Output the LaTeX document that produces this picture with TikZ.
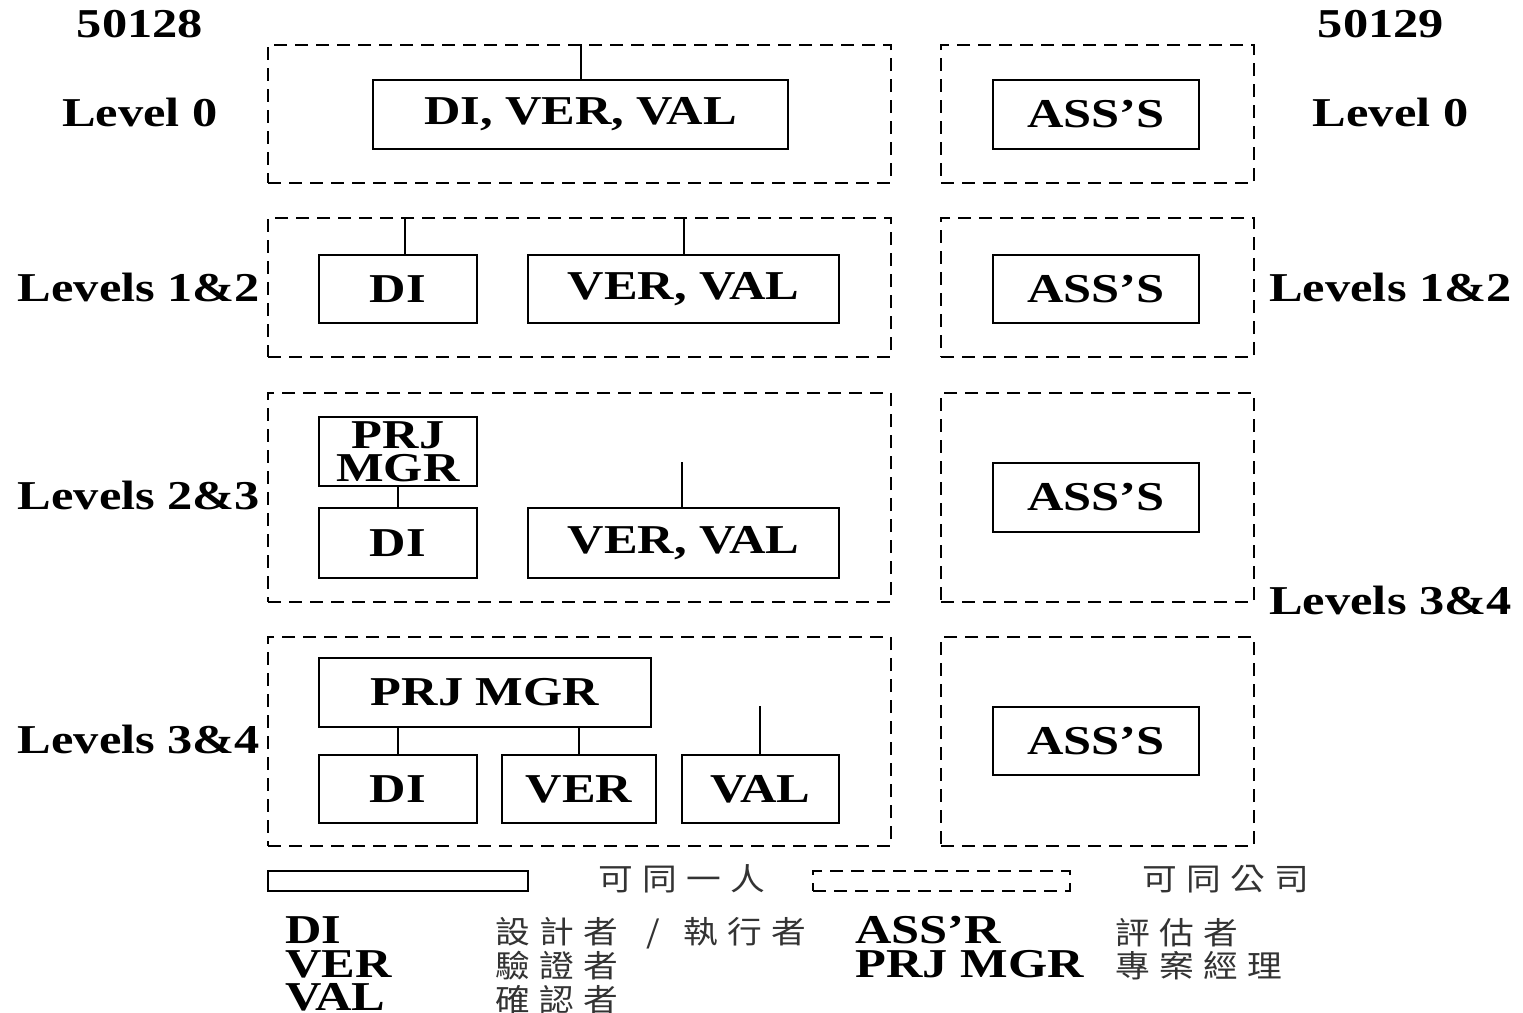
\documentclass[tikz,border=0pt]{standalone}
\usepackage{fontspec}
\setmainfont{Liberation Serif}[FakeStretch=1.23]
\newfontfamily\cjk{Noto Sans CJK TC}[FakeStretch=1.12,LetterSpace=30]
\begin{document}
\begin{tikzpicture}[x=0.5pt,y=-0.5pt,
  grp/.style={draw,line width=1pt,dash pattern=on 6.5pt off 4pt,inner sep=0pt},
  role/.style={draw,line width=1pt,inner sep=0pt,font=\bfseries\fontsize{20.5}{16.5}\selectfont,align=center},
  conn/.style={line width=1pt},
  lbl/.style={inner sep=0pt,font=\bfseries\fontsize{20.5}{22}\selectfont},
  zh/.style={inner sep=0pt,text=black!80,font=\cjk\fontsize{15.5}{16}\selectfont}]
\useasboundingbox (0,0) rectangle (1523,1013);
% group boxes
\node[grp,minimum width=311.5pt,minimum height=69pt] (g0L) at (579.5,114) {};
\node[grp,minimum width=156.5pt,minimum height=69pt] (g0R) at (1097.5,114) {};
\node[grp,minimum width=311.5pt,minimum height=69.5pt] (g1L) at (579.5,287.5) {};
\node[grp,minimum width=156.5pt,minimum height=69.5pt] (g1R) at (1097.5,287.5) {};
\node[grp,minimum width=311.5pt,minimum height=104.5pt] (g2L) at (579.5,497.5) {};
\node[grp,minimum width=156.5pt,minimum height=104.5pt] (g2R) at (1097.5,497.5) {};
\node[grp,minimum width=311.5pt,minimum height=104.5pt] (g3L) at (579.5,741.5) {};
\node[grp,minimum width=156.5pt,minimum height=104.5pt] (g3R) at (1097.5,741.5) {};
% role boxes
\node[role,minimum width=207.5pt,minimum height=34.5pt] (b0) at (580.5,114.5) {DI, VER, VAL};
\node[role,minimum width=103pt,minimum height=34.5pt] (a0) at (1096,114.5) {ASS’S};
\node[role,minimum width=79pt,minimum height=34pt] (b1di) at (398,289) {DI};
\node[role,minimum width=155.5pt,minimum height=34pt] (b1vv) at (683.5,289) {VER, VAL};
\node[role,minimum width=103pt,minimum height=34pt] (a1) at (1096,289) {ASS’S};
\node[role,minimum width=79pt,minimum height=34.5pt] (b2pm) at (398,451.5) {PRJ\\MGR};
\node[role,minimum width=79pt,minimum height=35pt] (b2di) at (398,543) {DI};
\node[role,minimum width=155.5pt,minimum height=35pt] (b2vv) at (683.5,543) {VER, VAL};
\node[role,minimum width=103pt,minimum height=34.5pt] (a2) at (1096,497.5) {ASS’S};
\node[role,minimum width=166pt,minimum height=34.5pt] (b3pm) at (485,692.5) {PRJ MGR};
\node[role,minimum width=79pt,minimum height=34pt] (b3di) at (398,789) {DI};
\node[role,minimum width=77pt,minimum height=34pt] (b3ver) at (579,789) {VER};
\node[role,minimum width=78.5pt,minimum height=34pt] (b3val) at (760.5,789) {VAL};
\node[role,minimum width=103pt,minimum height=34pt] (a3) at (1096,741) {ASS’S};
% connectors
\coordinate (t2) at (682,462);
\coordinate (t3) at (760,706);
\draw[conn] (b0.north) -- (b0.north |- g0L.north);
\draw[conn] ([xshift=3.5pt]b1di.north) -- ([xshift=3.5pt]b1di.north |- g1L.north);
\draw[conn] (b1vv.north) -- (b1vv.north |- g1L.north);
\draw[conn] (b2pm.south) -- (b2di.north);
\draw[conn] (t2 |- b2vv.north) -- (t2);
\draw[conn] (b3di.north) -- (b3di.north |- b3pm.south);
\draw[conn] (b3ver.north) -- (b3ver.north |- b3pm.south);
\draw[conn] (t3 |- b3val.north) -- (t3);
% labels
\node[lbl] (n1) at (140,24) {50128};
\node[lbl] (n2) at (1381,24) {50129};
\node[lbl] (l0L) at (140,112) {Level 0};
\node[lbl] (l1L) at (139,287) {Levels 1\&2};
\node[lbl] (l2L) at (139,495) {Levels 2\&3};
\node[lbl] (l3L) at (139,739) {Levels 3\&4};
\node[lbl] (l0R) at (1390.5,112) {Level 0};
\node[lbl] (l1R) at (1390.5,287) {Levels 1\&2};
\node[lbl] (l3R) at (1390.5,600) {Levels 3\&4};
% legend
\node[draw,line width=1pt,inner sep=0pt,minimum width=130pt,minimum height=10pt] (leg1) at (398,881) {};
\node[grp,minimum width=128.5pt,minimum height=10pt] (leg2) at (941.5,881) {};
\node[zh,anchor=west] (z1) at (598,879) {可同一人};
\node[zh,anchor=west] (z2) at (1142,879) {可同公司};
\node[lbl,anchor=base west] (k1) at (285,943) {DI};
\node[lbl,anchor=base west] (k2) at (285,977) {VER};
\node[lbl,anchor=base west] (k3) at (285,1010) {VAL};
\node[lbl,anchor=base west] (k4) at (855,943) {ASS’R};
\node[lbl,anchor=base west] (k5) at (855,977) {PRJ MGR};
\node[zh,anchor=west] (d1) at (495,933) {設計者\hspace{14pt}/\hspace{12pt}執行者};
\node[zh,anchor=west] (d2) at (495,966) {驗證者};
\node[zh,anchor=west] (d3) at (495,1000) {確認者};
\node[zh,anchor=west] (d4) at (1115,933) {評估者};
\node[zh,anchor=west] (d5) at (1115,966) {專案經理};
\end{tikzpicture}
\end{document}
